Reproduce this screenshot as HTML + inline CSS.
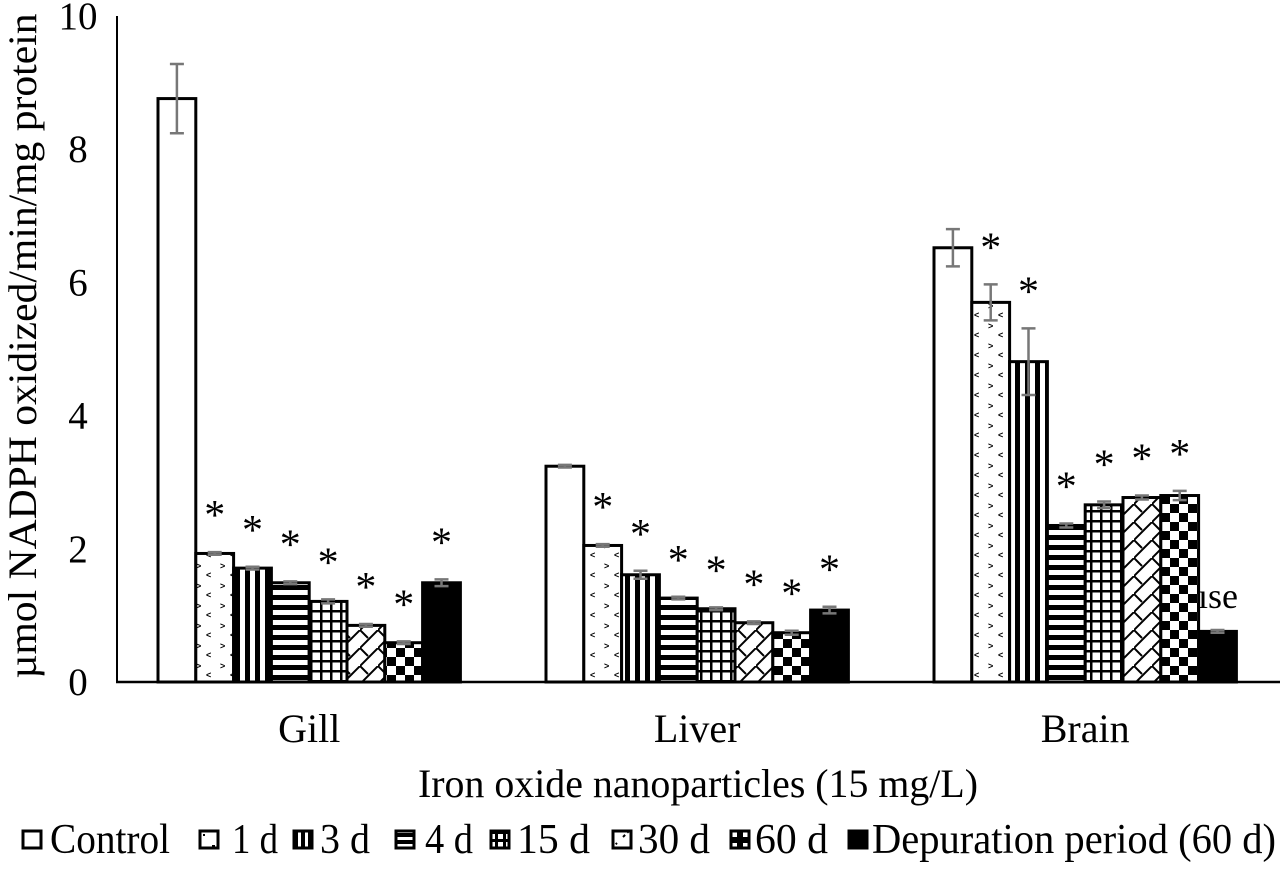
<!DOCTYPE html>
<html><head><meta charset="utf-8"><style>
body{margin:0;background:#fff}
svg text{font-family:"Liberation Serif",serif;fill:#000}
</style></head><body>
<svg id="chart" width="1280" height="864" viewBox="0 0 1280 864" xmlns="http://www.w3.org/2000/svg">
<defs>
<pattern id="p1" patternUnits="userSpaceOnUse" width="24" height="20"><rect width="24" height="20" fill="#fff"/><text x="4" y="9" font-size="9" style="font-family:'Liberation Sans',sans-serif;font-weight:bold">&gt;</text><text x="14" y="18" font-size="9" style="font-family:'Liberation Sans',sans-serif;font-weight:bold">&lt;</text></pattern>
<pattern id="p3" patternUnits="userSpaceOnUse" width="10" height="10"><rect width="10" height="10" fill="#fff"/><rect x="5" width="5" height="10" fill="#000"/></pattern>
<pattern id="p4" patternUnits="userSpaceOnUse" width="10" height="10"><rect width="10" height="10" fill="#fff"/><rect y="5" width="10" height="5" fill="#000"/></pattern>
<pattern id="p15" patternUnits="userSpaceOnUse" width="10" height="10"><rect width="10" height="10" fill="#fff"/><rect x="0" width="2.5" height="10" fill="#000"/><rect y="0" width="10" height="2.5" fill="#000"/></pattern>
<pattern id="p30" patternUnits="userSpaceOnUse" width="18" height="18"><rect width="18" height="18" fill="#fff"/><path d="M0 18L18 0" stroke="#000" stroke-width="2"/><path d="M0 0L8 8" stroke="#000" stroke-width="2"/></pattern>
<pattern id="p60" patternUnits="userSpaceOnUse" width="18" height="18"><rect width="18" height="18" fill="#fff"/><rect width="9" height="9" fill="#000"/><rect x="9" y="9" width="9" height="9" fill="#000"/></pattern>
<pattern id="lp1" patternUnits="userSpaceOnUse" width="20" height="20"><rect width="20" height="20" fill="#fff"/><rect x="12" y="5" width="3" height="3" fill="#000"/><rect x="3" y="14" width="2" height="2" fill="#000"/></pattern>
<pattern id="lp3" patternUnits="userSpaceOnUse" width="7" height="20"><rect width="7" height="20" fill="#000"/><rect x="4" width="3" height="20" fill="#fff"/></pattern>
<pattern id="lp4" patternUnits="userSpaceOnUse" width="20" height="7"><rect width="20" height="7" fill="#000"/><rect y="4" width="20" height="3" fill="#fff"/></pattern>
<pattern id="lp15" patternUnits="userSpaceOnUse" width="8" height="8"><rect width="8" height="8" fill="#000"/><rect x="2" y="2" width="5" height="5" fill="#fff"/></pattern>
<pattern id="lp30" patternUnits="userSpaceOnUse" width="20" height="20"><rect width="20" height="20" fill="#fff"/><path d="M3 17L17 3" stroke="#000" stroke-width="2" stroke-dasharray="3 3"/></pattern>
<pattern id="lp60" patternUnits="userSpaceOnUse" width="20" height="20"><rect width="20" height="20" fill="#000"/><rect x="3" y="3" width="14" height="6" fill="#fff"/><rect x="3" y="12" width="5" height="5" fill="#fff"/><rect x="12" y="12" width="5" height="5" fill="#fff"/></pattern>
</defs>
<g id="g"></g>
</svg>
<script>
const categories=["Gill","Liver","Brain"];
const seriesNames=["Control","1 d","3 d","4 d","15 d","30 d","60 d","Depuration period (60 d)"];
const gillValues=[8.76,1.93,1.71,1.49,1.21,0.85,0.59,1.49];
const liverValues=[3.24,2.05,1.61,1.26,1.1,0.89,0.74,1.08];
const brainValues=[6.52,5.7,4.81,2.35,2.66,2.77,2.8,0.76];
const gillErr=[0.52,0.02,0.02,0.02,0.03,0.02,0.02,0.05];
const liverErr=[0.02,0.02,0.06,0.02,0.02,0.02,0.03,0.05];
const brainErr=[0.28,0.27,0.5,0.03,0.05,0.03,0.07,0.02];
const gillSig=[0,1,1,1,1,1,1,1];
const liverSig=[0,1,1,1,1,1,1,1];
const brainSig=[0,1,1,1,1,1,1,0];
const yTicks=[0,2,4,6,8,10];
const fills=["#fff","url(#p1)","url(#p3)","url(#p4)","url(#p15)","url(#p30)","url(#p60)","#000"];
const legFills=["#fff","url(#lp1)","url(#lp3)","url(#lp4)","url(#lp15)","url(#lp30)","url(#lp60)","#000"];
const values=[gillValues,liverValues,brainValues],errs=[gillErr,liverErr,brainErr],sigs=[gillSig,liverSig,brainSig];
const NS="http://www.w3.org/2000/svg",g=document.getElementById('g');
const y0=682,ppu=66.6,y=v=>y0-v*ppu;
const groupStart=i=>158+i*388,bw=37.8,x=(i,j)=>groupStart(i)+j*bw;
function el(t,a,txt){const e=document.createElementNS(NS,t);for(const k in a)e.setAttribute(k,a[k]);if(txt!=null)e.textContent=txt;g.appendChild(e);return e;}
let e=el('line',{x1:117,y1:16,x2:117,y2:683,stroke:'#000','stroke-width':2});

e=el('line',{x1:116,y1:682,x2:1280,y2:682,stroke:'#000','stroke-width':2.5});

yTicks.forEach(t=>{const tx=el('text',{x:78,y:y(t)+13,'font-size':39,'text-anchor':'middle'},String(t));
});
categories.forEach((c,i)=>{
 values[i].forEach((v,j)=>{
  const r=el('rect',{x:x(i,j),y:y(v),width:bw,height:v*ppu,fill:fills[j],stroke:'#000','stroke-width':3});
  
  
  const cx=x(i,j)+bw/2,er=errs[i][j];
  const eb=el('path',{d:`M${cx} ${y(v+er)}V${y(v-er)}M${cx-7} ${y(v+er)}H${cx+7}M${cx-7} ${y(v-er)}H${cx+7}`,stroke:'#777','stroke-width':2.5,fill:'none'});
  
  if(sigs[i][j]){const s=el('text',{x:cx,y:y(v+er)-23,'font-size':42,'text-anchor':'middle'},'*');
   }
 });
 const lb=el('text',{x:groupStart(i)+4*bw,y:742,'font-size':40,'text-anchor':'middle'},c);
 
});
e=el('text',{x:1218,y:608,'font-size':36,'text-anchor':'middle'},'ıse');

e=el('text',{x:698,y:797,'font-size':40,'text-anchor':'middle',textLength:560,lengthAdjust:'spacingAndGlyphs'},'Iron oxide nanoparticles (15 mg/L)');

e=el('text',{x:0,y:0,'font-size':40,'text-anchor':'middle',textLength:665,lengthAdjust:'spacingAndGlyphs',transform:'translate(36,346) rotate(-90)'},'µmol NADPH oxidized/min/mg protein');

const legBox=[22,199,293,395,490,612,730,848];
const legText=[50,232,320,425,517,638,755,872];
const legW=[120,46,50,48,73,72,73,404];
seriesNames.forEach((n,j)=>{
 const b=el('rect',{x:legBox[j]+1,y:831,width:18,height:17,fill:legFills[j],stroke:'#000','stroke-width':3});
 
 const t=el('text',{x:legText[j],y:853,'font-size':42,textLength:legW[j],lengthAdjust:'spacingAndGlyphs'},n);
 
});
</script>
</body></html>
